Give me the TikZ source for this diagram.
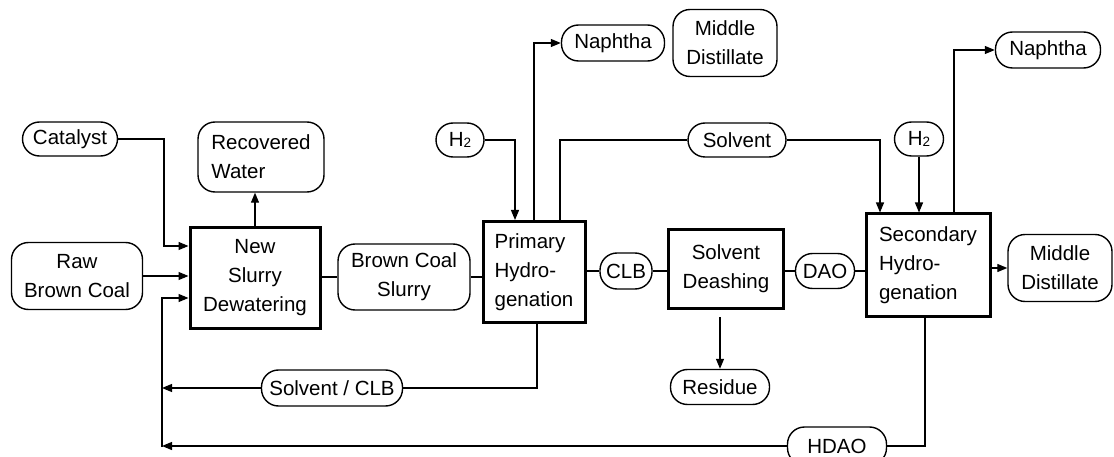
\documentclass[tikz,border=0pt]{standalone}
\usepackage{fontspec}
\setmainfont{Liberation Sans}
\usetikzlibrary{arrows.meta}

\tikzset{every picture/.style={line width=1.2pt}}
\tikzset{
  stream/.style={draw, rounded corners=17pt, line width=1.4pt, inner sep=1pt, align=center},
  proc/.style={draw, line width=3pt, inner sep=1pt, align=center},
  arr/.style={-{Triangle[length=10pt,width=8pt]}},
}
\newcommand{\Htwo}{H\raisebox{-1pt}{\fontsize{13.5}{13.5}\selectfont 2}}

\begin{document}
\begin{tikzpicture}[x=1pt,y=1pt,yscale=-1,xscale=1,font=\fontsize{20.5}{29}\selectfont]
\useasboundingbox (0,0) rectangle (1114,457);

%Shape: feed streams
\node (cat) at (70,139) [stream, minimum width=95, minimum height=34] {Catalyst};
\node (raw) at (77,276) [stream, minimum width=131, minimum height=67] {Raw\\Brown Coal};
\node (water) at (261,157) [stream, minimum width=126, minimum height=70, align=left] {Recovered\\Water};
\node (h2a) at (460,140) [stream, minimum width=48, minimum height=34] {\Htwo};
\node (h2b) at (919,139) [stream, minimum width=49, minimum height=34] {\Htwo};

%Shape: process boxes
\node (dew) at (255,278) [proc, minimum width=130, minimum height=100] {New\\Slurry\\Dewatering};
\node (prim) at (534,272) [proc, minimum width=102, minimum height=101, align=left] {Primary\\Hydro-\\genation};
\node (desh) at (726,269) [proc, minimum width=115, minimum height=78] {Solvent\\Deashing};
\node (sec) at (928,265) [proc, minimum width=124, minimum height=102, align=left] {Secondary\\Hydro-\\genation};

%Shape: intermediate and product streams
\node (slurry) at (404,277) [stream, minimum width=132, minimum height=66] {Brown Coal\\Slurry};
\node (naph1) at (613,43) [stream, minimum width=103, minimum height=36] {Naphtha};
\node (mid1) at (725,43) [stream, minimum width=104, minimum height=67] {Middle\\Distillate};
\node (solv) at (737,140) [stream, minimum width=98, minimum height=34] {Solvent};
\node (naph2) at (1048,50) [stream, minimum width=105, minimum height=36] {Naphtha};
\node (mid2) at (1060,268) [stream, minimum width=104, minimum height=67] {Middle\\Distillate};
\node (clb) at (626,271) [stream, minimum width=52, minimum height=36] {CLB};
\node (dao) at (825,271) [stream, minimum width=59, minimum height=35] {DAO};
\node (res) at (720,387) [stream, minimum width=99, minimum height=35] {Residue};
\node (sclb) at (332,388) [stream, minimum width=141, minimum height=36] {Solvent / CLB};
\node (hdao) at (837,446) [stream, minimum width=99, minimum height=38] {HDAO};

%Straight Lines: recycle line
\coordinate (catin) at (164,246);
\coordinate (recin) at (162,298);
\coordinate (recb) at (162,447);
\coordinate (resin) at (720,317);

%Straight Lines: feeds into dewatering
\draw[arr] (cat.east) -| (catin) -- (catin -| dew.west);
\draw[arr] (raw.east) -- (raw.east -| dew.west);
\draw[arr] (recb) -- (recin) -- (recin -| dew.west);
\draw[arr] (dew.north) -- (dew.north |- water.south);

%Straight Lines: main line
\draw (dew.east |- slurry) -- (slurry.west);
\draw (slurry.east) -- (slurry.east -| prim.west);
\draw (prim.east |- clb) -- (clb.west);
\draw (clb.east) -- (clb.east -| desh.west);
\draw (desh.east |- dao) -- (dao.west);
\draw (dao.east) -- (dao.east -| sec.west);
\draw[arr] (sec.east |- mid2) -- (mid2.west);

%Straight Lines: tops
\draw[arr] (h2a.east) -| ([xshift=-19pt]prim.north);
\draw[arr] (prim.north) |- (naph1.west);
\draw ([xshift=26pt]prim.north) |- (solv.west);
\draw[arr] (solv.east) -| ([xshift=-48pt]sec.north);
\draw[arr] (h2b.south) -- (h2b.south |- sec.north);
\draw[arr] ([xshift=26pt]sec.north) |- (naph2.west);

%Straight Lines: bottoms
\draw[arr] (resin) -- (res.north);
\draw ([xshift=3pt]prim.south) |- (sclb.east);
\draw[arr] (sclb.west) -- (sclb.west -| recb);
\draw ([xshift=-3pt]sec.south) |- (hdao.east);
\draw[arr] (hdao.west) -- (hdao.west -| recb);

\end{tikzpicture}
\end{document}
